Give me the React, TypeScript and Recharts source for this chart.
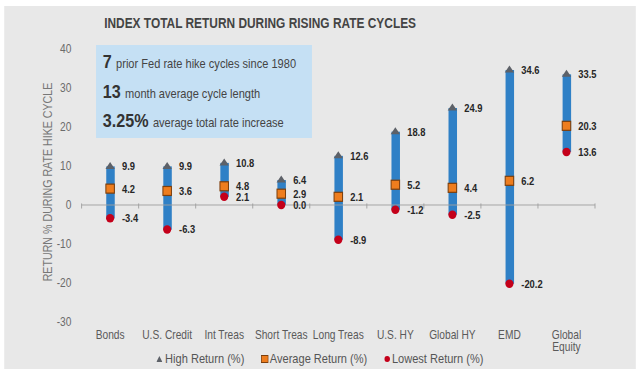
import { ComposedChart, Bar, Line, XAxis, YAxis, ReferenceLine, LabelList, Legend } from 'recharts';

const categories = ['Bonds', 'U.S. Credit', 'Int Treas', 'Short Treas', 'Long Treas', 'U.S. HY', 'Global HY', 'EMD', 'Global Equity'];
const highReturn = [9.9, 9.9, 10.8, 6.4, 12.6, 18.8, 24.9, 34.6, 33.5];
const averageReturn = [4.2, 3.6, 4.8, 2.9, 2.1, 5.2, 4.4, 6.2, 20.3];
const lowestReturn = [-3.4, -6.3, 2.1, 0.0, -8.9, -1.2, -2.5, -20.2, 13.6];
const yTicks = [-30, -20, -10, 0, 10, 20, 30, 40];

const facts = [
  { big: '7', text: 'prior Fed rate hike cycles since 1980' },
  { big: '13', text: 'month average cycle length' },
  { big: '3.25%', text: 'average total rate increase' },
];

const data = categories.map((name, i) => ({
  name,
  high: highReturn[i],
  avg: averageReturn[i],
  low: lowestReturn[i],
  range: [lowestReturn[i], highReturn[i]],
}));

// the original picture is squeezed sideways, so the chart is drawn wider and scaled down in x
const SQUEEZE = 0.85;
const W = Math.round(640 / SQUEEZE);

const FONT = "'Liberation Sans', Arial, sans-serif";
const BLUE = '#2f80c6';
const GREY_TRI = '#5d6168';
const ORANGE = '#ee7d1e';
const RED = '#c4001a';

const Triangle = (p: any) => {
  const { cx, cy } = p;
  if (cx == null || cy == null) return null;
  return <polygon points={`${cx},${cy - 4.5} ${cx - 5.5},${cy + 2.5} ${cx + 5.5},${cy + 2.5}`} fill={GREY_TRI} />;
};
const Square = (p: any) => {
  const { cx, cy } = p;
  if (cx == null || cy == null) return null;
  return <rect x={cx - 5} y={cy - 4.5} width={10} height={9} fill={ORANGE} stroke="#7d3f0c" strokeWidth={1.2} />;
};
const Dot = (p: any) => {
  const { cx, cy } = p;
  if (cx == null || cy == null) return null;
  return <ellipse cx={cx} cy={cy} rx={4.8} ry={4.2} fill={RED} />;
};

const CategoryTick = ({ x, y, payload }: any) => {
  const words = payload.value.length > 11 ? payload.value.split(' ') : [payload.value];
  return (
    <text x={x} y={y} textAnchor="middle" fill="#5a5a5a" fontSize={12}>
      {words.map((w: string, i: number) => (
        <tspan key={i} x={x} dy={i === 0 ? '0.71em' : '1.05em'}>{w}</tspan>
      ))}
    </text>
  );
};

// rotated axis title: narrow along its length, like the original
const YTitle = ({ viewBox }: any) => {
  if (!viewBox) return null;
  const cx = viewBox.x + viewBox.width / 2 - 11;
  const cy = viewBox.y + viewBox.height / 2 - 3.5;
  return (
    <text
      transform={`translate(${cx},${cy}) rotate(-90) scale(0.82,${(1 / SQUEEZE).toFixed(3)})`}
      textAnchor="middle"
      dy="0.36em"
      fill="#777"
      fontSize={13}
    >
      RETURN % DURING RATE HIKE CYCLE
    </text>
  );
};

const legendItems = [
  { label: 'High Return (%)', gap: 3, icon: <svg width={7} height={6}><polygon points="3.5,0 0,6 7,6" fill={GREY_TRI} /></svg> },
  { label: 'Average Return (%)', gap: 1, icon: <svg width={9} height={8}><rect x={0.5} y={0.5} width={8} height={7} fill={ORANGE} stroke="#7d3f0c" /></svg> },
  { label: 'Lowest Return (%)', gap: 2, icon: <svg width={7} height={6}><ellipse cx={3.5} cy={3} rx={3.3} ry={3} fill={RED} /></svg> },
];

const LegendContent = () => (
  <div style={{ display: 'flex', justifyContent: 'center', gap: 20, fontSize: 13, lineHeight: '16px', color: '#555', fontFamily: FONT }}>
    {legendItems.map((it) => (
      <div key={it.label} style={{ display: 'flex', alignItems: 'center', gap: it.gap }}>
        {it.icon}
        <span>{it.label}</span>
      </div>
    ))}
  </div>
);

const fmt = (v: any) => Number(v).toFixed(1);
const labelStyle = { fill: '#262626', fontSize: 11, fontWeight: 700 };

export default function App() {
  const last = categories[categories.length - 1];
  return (
    <div style={{ position: 'absolute', left: 0, top: 0, width: 640, height: 378, background: '#fff', fontFamily: FONT, overflow: 'hidden' }}>
      <div style={{ position: 'absolute', left: 0, top: 0, width: W, height: 378, transform: `scaleX(${SQUEEZE})`, transformOrigin: '0 0' }}>
        <div style={{ position: 'absolute', left: 5, top: 6, width: 743, height: 363, background: '#e8e8e8' }} />
        <div style={{ position: 'absolute', left: 0, top: 15, width: 612, textAlign: 'center', fontSize: 14, lineHeight: '16px', fontWeight: 700, color: '#444' }}>
          INDEX TOTAL RETURN DURING RISING RATE CYCLES
        </div>
        <div style={{ position: 'absolute', left: 0, top: 0 }}>
          <ComposedChart width={W} height={378} data={data} margin={{ top: 49, right: 53, bottom: 26, left: 37 }}>
            <XAxis dataKey="name" axisLine={false} tickLine={false} tick={<CategoryTick />} interval={0} />
            <YAxis
              type="number"
              domain={[-30, 40]}
              ticks={yTicks}
              width={59}
              axisLine={false}
              tickLine={false}
              tickMargin={6}
              tick={{ fill: '#6b6b6b', fontSize: 12 }}
              label={<YTitle />}
            />
            <ReferenceLine y={0} stroke="#a0a0a0" strokeWidth={1} />
            {categories.map((c) => (
              <ReferenceLine key={c} segment={[{ x: c, y: 0.4 }, { x: c, y: -0.9 }]} position="start" stroke="#a0a0a0" />
            ))}
            <ReferenceLine segment={[{ x: last, y: 0.4 }, { x: last, y: -0.9 }]} position="end" stroke="#a0a0a0" />
            <Bar dataKey="range" barSize={10} fill={BLUE} isAnimationActive={false} legendType="none" />
            <Line dataKey="low" name="Lowest Return (%)" stroke="none" dot={<Dot />} activeDot={false} isAnimationActive={false}>
              <LabelList dataKey="low" position="right" offset={14} formatter={fmt} style={labelStyle} />
            </Line>
            <Line dataKey="avg" name="Average Return (%)" stroke="none" dot={<Square />} activeDot={false} isAnimationActive={false}>
              <LabelList dataKey="avg" position="right" offset={14} formatter={fmt} style={labelStyle} />
            </Line>
            <Line dataKey="high" name="High Return (%)" stroke="none" dot={<Triangle />} activeDot={false} isAnimationActive={false}>
              <LabelList dataKey="high" position="right" offset={14} formatter={fmt} style={labelStyle} />
            </Line>
            <Legend
              layout="horizontal"
              verticalAlign="middle"
              content={<LegendContent />}
              wrapperStyle={{ position: 'absolute', top: 351, left: 0, width: W }}
            />
          </ComposedChart>
        </div>
        <div style={{ position: 'absolute', left: 113, top: 45, width: 254, height: 93, background: '#c5e0f4' }}>
          {facts.map((f, i) => (
            <div key={f.big} style={{ position: 'absolute', left: 8, top: 6 + i * 29.5, whiteSpace: 'nowrap', color: '#333', lineHeight: '22px' }}>
              <span style={{ fontSize: 19, fontWeight: 700 }}>{f.big}</span>
              <span style={{ fontSize: 13, marginLeft: 5, color: '#444' }}>{f.text}</span>
            </div>
          ))}
        </div>
      </div>
    </div>
  );
}
